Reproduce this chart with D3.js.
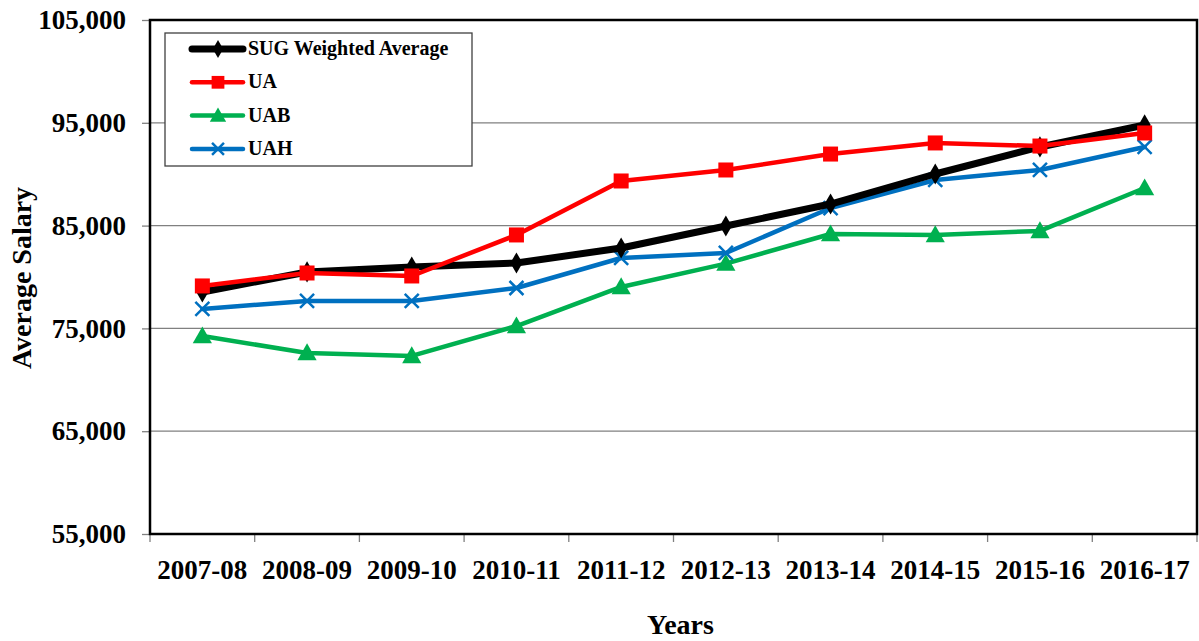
<!DOCTYPE html>
<meta charset="utf-8">
<style>
body { margin:0; background:#fff; }
svg, text { font-family: 'Liberation Serif', 'Times New Roman', serif; font-weight: bold; }
</style>
<body>
<script src="https://cdn.jsdelivr.net/npm/d3@7"></script>
<script>

// data
var years = ["2007-08","2008-09","2009-10","2010-11","2011-12","2012-13","2013-14","2014-15","2015-16","2016-17"];
var sugAvg = [78540, 80490, 80970, 81360, 82820, 84960, 87100, 90020, 92650, 94790];
var ua     = [79130, 80390, 80100, 84090, 89340, 90410, 91960, 93040, 92740, 94010];
var uab    = [74260, 72610, 72320, 75230, 79030, 81300, 84180, 84090, 84480, 88660];
var uah    = [76890, 77670, 77670, 78930, 81850, 82340, 86710, 89440, 90410, 92650];
var yTicks = [55000, 65000, 75000, 85000, 95000, 105000];

var series = [
  {name:"SUG Weighted Average", values:sugAvg, color:"#000000", width:7, marker:"diamond"},
  {name:"UA",  values:ua,  color:"#FF0000", width:4.5, marker:"square"},
  {name:"UAB", values:uab, color:"#00B050", width:4.5, marker:"triangle"},
  {name:"UAH", values:uah, color:"#0070C0", width:4.5, marker:"cross"}
];

var W = 1199, H = 641;
var pL = 150, pR = 1197, pT = 20, pB = 534;

var svg = d3.select("body").append("svg")
    .attr("width", W)
    .attr("height", H);

var x = d3.scaleBand().domain(years).range([pL, pR]).padding(0);
var y = d3.scaleLinear().domain([55000, 105000]).range([pB, pT]);
var cx = function(d){ return x(d) + x.bandwidth()/2; };

// gridlines
svg.append("g").selectAll("line")
    .data(yTicks)
  .enter().append("line")
    .attr("x1", pL).attr("x2", pR)
    .attr("y1", function(d){ return y(d); })
    .attr("y2", function(d){ return y(d); })
    .style("stroke", "#808080")
    .style("stroke-width", 1.3);

// y axis
var yAxis = d3.axisLeft(y).tickValues(yTicks).tickSize(8).tickPadding(16).tickFormat(d3.format(","));
var gy = svg.append("g")
    .attr("transform", "translate(" + pL + ",0)")
    .call(yAxis);
gy.select(".domain").remove();
gy.selectAll(".tick line").style("stroke", "#808080").style("stroke-width", 1.3);
gy.selectAll(".tick text")
    .style("font-size", "27px")
    .style("font-family", "'Liberation Serif', serif")
    .style("font-weight", "bold")
    .style("fill", "#000");

// x ticks at band edges
var edges = years.map(function(d){ return x(d); }).concat([x.range()[1]]);
svg.append("g").selectAll("line")
    .data(edges)
  .enter().append("line")
    .attr("x1", function(d){ return d; }).attr("x2", function(d){ return d; })
    .attr("y1", pB).attr("y2", pB + 8)
    .style("stroke", "#808080")
    .style("stroke-width", 1.3);

svg.append("g").selectAll("text")
    .data(years)
  .enter().append("text")
    .attr("x", cx)
    .attr("y", pB + 45)
    .attr("text-anchor", "middle")
    .style("font-size", "27px")
    .text(function(d){ return d; });

// plot border
svg.append("rect")
    .attr("x", pL).attr("y", pT)
    .attr("width", pR - pL).attr("height", pB - pT)
    .style("fill", "none")
    .style("stroke", "#000")
    .style("stroke-width", 2.5);

// axis titles
svg.append("text")
    .attr("x", (pL + pR)/2 + 7)
    .attr("y", 634)
    .attr("text-anchor", "middle")
    .style("font-size", "28px")
    .text("Years");

svg.append("text")
    .attr("transform", "translate(31," + ((pT + pB)/2 + 1) + ") rotate(-90)")
    .attr("text-anchor", "middle")
    .style("font-size", "28px")
    .text("Average Salary");

// lines and markers
var line = d3.line()
    .x(function(d, i){ return cx(years[i]); })
    .y(function(d){ return y(d); });

function drawMarker(g, type, color, px, py, s) {
  if (type === "diamond") {
    g.append("path").attr("d", d3.symbol().type(d3.symbolDiamond).size(s*s*0.9)())
      .attr("transform", "translate(" + px + "," + py + ")").style("fill", color);
  } else if (type === "square") {
    g.append("rect").attr("x", px - s/2).attr("y", py - s/2).attr("width", s).attr("height", s)
      .style("fill", color);
  } else if (type === "triangle") {
    g.append("path").attr("d", "M" + px + "," + (py - s*0.6) + "L" + (px + s*0.6) + "," + (py + s*0.45) + "L" + (px - s*0.6) + "," + (py + s*0.45) + "Z")
      .style("fill", color);
  } else if (type === "cross") {
    var h = s/2;
    g.append("path").attr("d", "M" + (px-h) + "," + (py-h) + "L" + (px+h) + "," + (py+h) + "M" + (px+h) + "," + (py-h) + "L" + (px-h) + "," + (py+h))
      .style("stroke", color).style("stroke-width", 2.5).style("fill", "none");
  }
}

var sizes = {diamond: 12, square: 15, triangle: 16, cross: 14};

// draw order so black sits between the others like the reference
[series[2], series[3], series[0], series[1]].forEach(function(s){
  var g = svg.append("g");
  g.append("path")
    .datum(s.values)
    .attr("d", line)
    .style("fill", "none")
    .style("stroke", s.color)
    .style("stroke-width", s.width)
    .style("stroke-linejoin", "round")
    .style("stroke-linecap", "round");
  s.values.forEach(function(v, i){
    drawMarker(g, s.marker, s.color, cx(years[i]), y(v), sizes[s.marker]);
  });
});

// legend
var lg = svg.append("g");
lg.append("rect")
    .attr("x", 165).attr("y", 33)
    .attr("width", 307).attr("height", 133)
    .style("fill", "#fff")
    .style("stroke", "#404040")
    .style("stroke-width", 1.3);

series.forEach(function(s, i){
  var ly = 49 + i * 33.3;
  lg.append("line")
    .attr("x1", 192).attr("x2", 243)
    .attr("y1", ly).attr("y2", ly)
    .style("stroke", s.color)
    .style("stroke-width", s.width)
    .style("stroke-linecap", "round");
  drawMarker(lg, s.marker, s.color, 218, ly, sizes[s.marker] * 0.85);
  lg.append("text")
    .attr("x", 248)
    .attr("y", ly + 6)
    .style("font-size", "20px")
    .text(s.name);
});

</script>
</body>
